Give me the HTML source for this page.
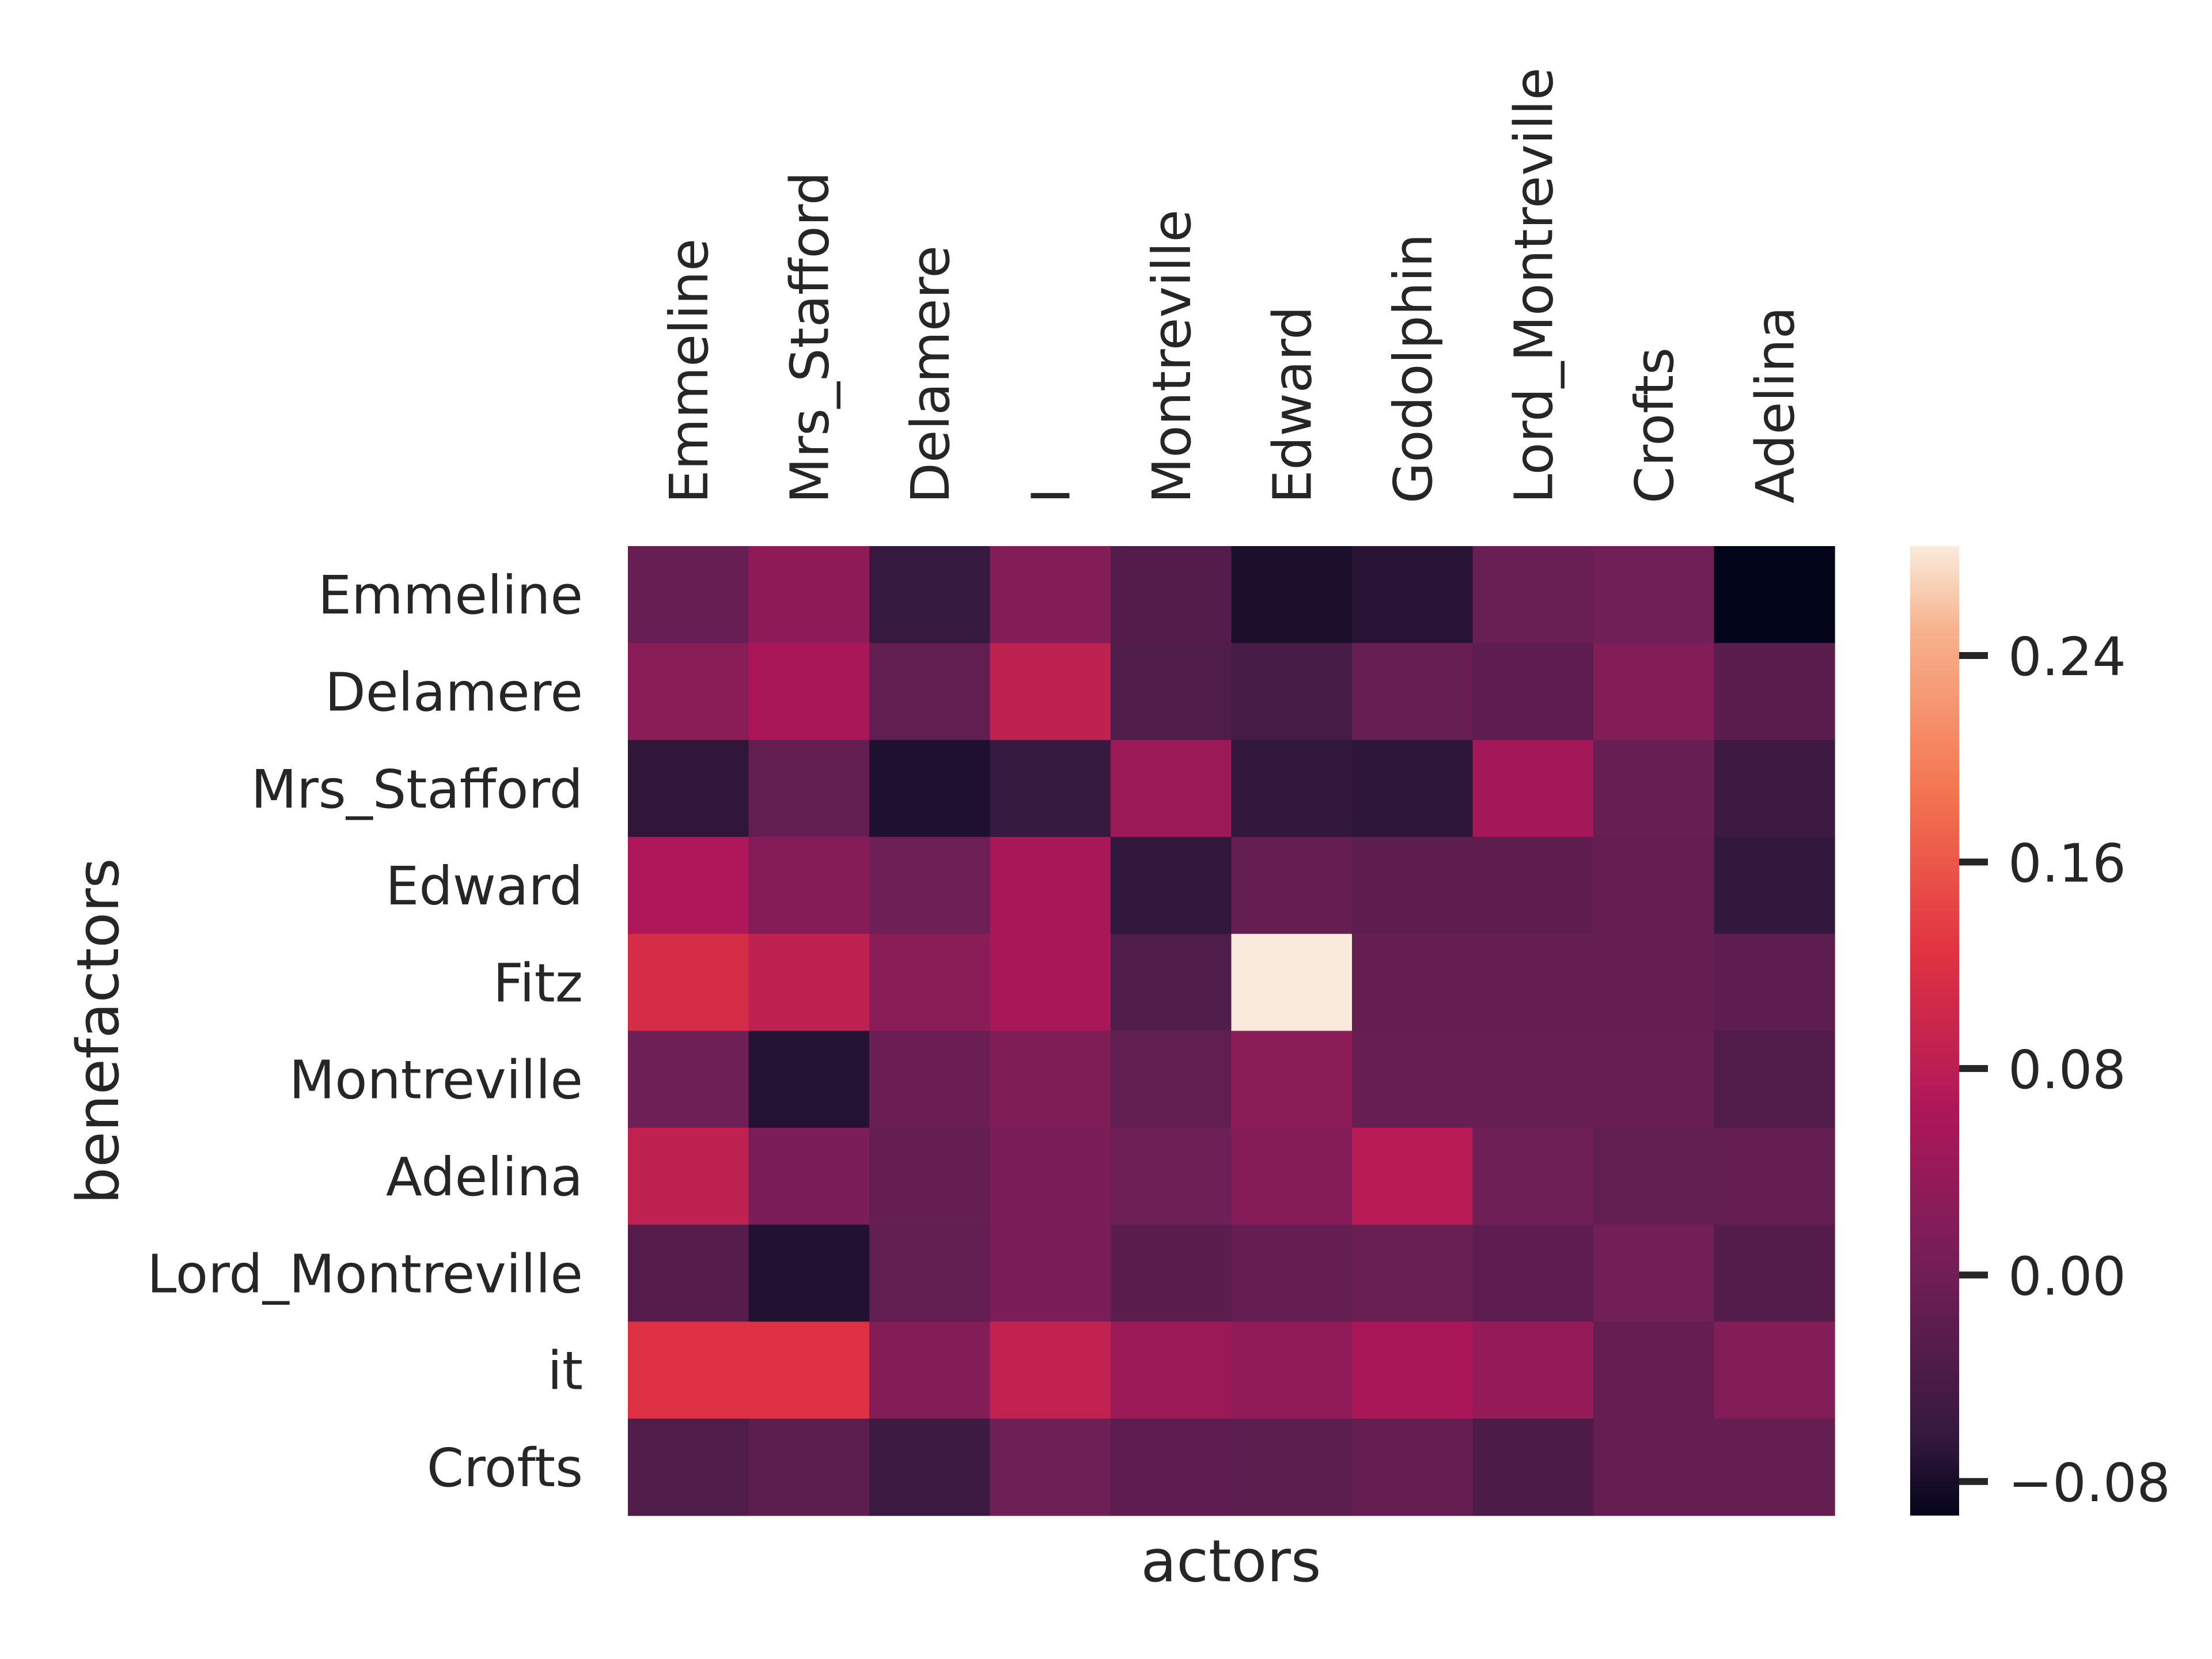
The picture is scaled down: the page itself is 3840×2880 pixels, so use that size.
<!DOCTYPE html>
<html><head><meta charset="utf-8"><style>
html,body{margin:0;padding:0;background:#fff;}
svg{display:block;}
text{font-family:"DejaVu Sans","Liberation Sans",sans-serif;fill:#262626;}
</style></head><body>
<svg id="chart" width="3840" height="2880" viewBox="0 0 3840 2880" xmlns="http://www.w3.org/2000/svg">
<defs>
<linearGradient id="rocketGrad" x1="0" y1="1" x2="0" y2="0">
<stop offset="0" stop-color="#03051a"/><stop offset="0.0833" stop-color="#35193e"/><stop offset="0.25" stop-color="#701f57"/><stop offset="0.4167" stop-color="#ad1759"/><stop offset="0.5833" stop-color="#e13342"/><stop offset="0.75" stop-color="#f37651"/><stop offset="0.9167" stop-color="#f6b48f"/><stop offset="1" stop-color="#faebdd"/>
</linearGradient>
</defs>
<g id="cells"></g>
<g id="xlabels"></g>
<g id="ylabels"></g>
<text x="2137" y="2745" font-size="101" text-anchor="middle">actors</text>
<text transform="translate(205,1790) rotate(-90)" font-size="101" text-anchor="middle">benefactors</text>
<rect x="3316" y="948" width="85" height="1683" fill="url(#rocketGrad)"/>
<g id="cbticks"></g>
</svg>
<script>
const columns = ["Emmeline","Mrs_Stafford","Delamere","I","Montreville","Edward","Godolphin","Lord_Montreville","Crofts","Adelina"];
const rows = ["Emmeline","Delamere","Mrs_Stafford","Edward","Fitz","Montreville","Adelina","Lord_Montreville","it","Crofts"];
const rowEmmeline = [-0.010,0.031,-0.062,0.020,-0.029,-0.078,-0.069,-0.007,0.001,-0.093];
const rowDelamere = [0.027,0.060,-0.014,0.085,-0.033,-0.044,-0.009,-0.018,0.020,-0.022];
const rowMrsStafford = [-0.065,-0.014,-0.076,-0.062,0.046,-0.064,-0.066,0.054,-0.009,-0.052];
const rowEdward = [0.064,0.022,-0.003,0.058,-0.064,-0.012,-0.019,-0.019,-0.011,-0.064];
const rowFitz = [0.112,0.085,0.027,0.058,-0.033,0.282,-0.012,-0.011,-0.011,-0.018];
const rowMontreville = [-0.002,-0.073,-0.006,0.016,-0.014,0.027,-0.009,-0.010,-0.010,-0.032];
const rowAdelina = [0.085,0.012,-0.012,0.012,-0.003,0.022,0.075,-0.003,-0.014,-0.012];
const rowLordMontreville = [-0.028,-0.074,-0.014,0.012,-0.022,-0.011,-0.007,-0.018,0.003,-0.029];
const rowIt = [0.122,0.122,0.020,0.088,0.046,0.034,0.060,0.039,-0.011,0.020];
const rowCrofts = [-0.033,-0.020,-0.054,-0.002,-0.018,-0.020,-0.012,-0.038,-0.012,-0.012];
const matrix = [rowEmmeline,rowDelamere,rowMrsStafford,rowEdward,rowFitz,rowMontreville,rowAdelina,rowLordMontreville,rowIt,rowCrofts];
const cbTicks = [0.24,0.16,0.08,0.00,-0.08];
const cbTickLabels = ["0.24","0.16","0.08","0.00","\u22120.08"];
const vmin = -0.0932, vmax = 0.2824;

const NS = "http://www.w3.org/2000/svg";
const X0 = 1090, X1 = 3185, Y0 = 948, Y1 = 2631;
const cw = (X1 - X0) / columns.length, ch = (Y1 - Y0) / rows.length;
function xPos(i){ return X0 + i * cw; }
function yPos(j){ return Y0 + j * ch; }
function cbY(v){ return Y1 - (v - vmin) / (vmax - vmin) * (Y1 - Y0); }
const stops = [[0,"#03051a"],[0.0833,"#35193e"],[0.25,"#701f57"],[0.4167,"#ad1759"],[0.5833,"#e13342"],[0.75,"#f37651"],[0.9167,"#f6b48f"],[1,"#faebdd"]];
function hex2rgb(h){ return [parseInt(h.slice(1,3),16),parseInt(h.slice(3,5),16),parseInt(h.slice(5,7),16)]; }
function rocket(v){
  let t = Math.max(0, Math.min(1, (v - vmin) / (vmax - vmin)));
  for (let k = 0; k < stops.length - 1; k++) {
    if (t <= stops[k+1][0]) {
      const a = hex2rgb(stops[k][1]), b = hex2rgb(stops[k+1][1]);
      const f = (t - stops[k][0]) / (stops[k+1][0] - stops[k][0]);
      return "rgb(" + a.map((c,i)=>Math.round(c + (b[i]-c)*f)).join(",") + ")";
    }
  }
  return stops[stops.length-1][1];
}
const cells = document.getElementById("cells");
matrix.forEach((row, j) => {
  row.forEach((v, i) => {
    const r = document.createElementNS(NS, "rect");
    r.setAttribute("x", xPos(i)); r.setAttribute("y", yPos(j));
    r.setAttribute("width", cw + 0.6); r.setAttribute("height", ch + 0.6);
    r.setAttribute("fill", rocket(v));
    
    
    cells.appendChild(r);
  });
});
const xl = document.getElementById("xlabels");
columns.forEach((c, i) => {
  const t = document.createElementNS(NS, "text");
  const cx = xPos(i) + cw / 2;
  t.setAttribute("transform", "translate(" + (cx + 33) + ",874) rotate(-90)");
  t.setAttribute("font-size", "92");
  t.textContent = c;
  
  
  xl.appendChild(t);
});
const yl = document.getElementById("ylabels");
rows.forEach((r, j) => {
  const t = document.createElementNS(NS, "text");
  t.setAttribute("x", 1012);
  t.setAttribute("y", yPos(j) + ch / 2 + 33);
  t.setAttribute("font-size", "92");
  t.setAttribute("text-anchor", "end");
  t.textContent = r;
  
  
  yl.appendChild(t);
});
const cb = document.getElementById("cbticks");
cbTicks.forEach((v, k) => {
  const y = cbY(v);
  const l = document.createElementNS(NS, "rect");
  l.setAttribute("x", 3401); l.setAttribute("y", y - 6);
  l.setAttribute("width", 50); l.setAttribute("height", 12);
  l.setAttribute("fill", "#262626");
  
  
  cb.appendChild(l);
  const t = document.createElementNS(NS, "text");
  t.setAttribute("x", 3486); t.setAttribute("y", y + 34);
  t.setAttribute("font-size", "92");
  t.textContent = cbTickLabels[k];
  
  
  cb.appendChild(t);
});
</script>
</body></html>
